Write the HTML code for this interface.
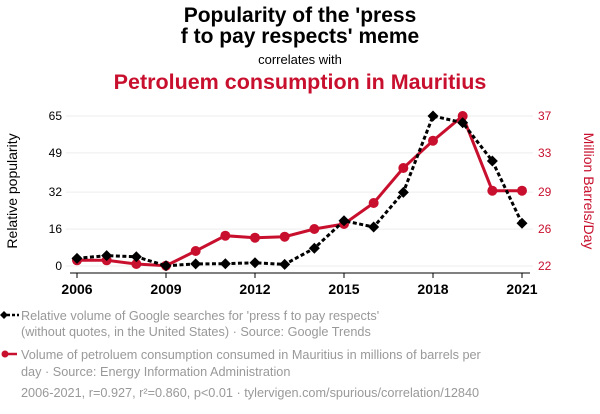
<!DOCTYPE html>
<html><head><meta charset="utf-8"><style>
body{margin:0;background:#fff;}
svg{display:block;font-family:"Liberation Sans",Arial,sans-serif;}
</style></head><body>
<svg id="chart" width="600" height="414" viewBox="0 0 600 414" xmlns="http://www.w3.org/2000/svg">
<text x="300" y="22" text-anchor="middle" font-size="21" font-weight="bold" fill="#000">Popularity of the 'press</text>
<text x="300" y="43" text-anchor="middle" font-size="21" font-weight="bold" fill="#000">f to pay respects' meme</text>
<text x="300" y="64" text-anchor="middle" font-size="13" fill="#000">correlates with</text>
<text x="300" y="89" text-anchor="middle" font-size="21.5" font-weight="bold" fill="#c8102e">Petroluem consumption in Mauritius</text>
<g id="grid"></g>
<g id="axes"></g>
<g id="series"></g>
<text transform="translate(17,191) rotate(-90)" text-anchor="middle" font-size="14" fill="#000">Relative popularity</text>
<text transform="translate(584,191) rotate(90)" text-anchor="middle" font-size="14" fill="#c8102e">Million Barrels/Day</text>
<g>
<line x1="2" y1="315" x2="19" y2="315" stroke="#000" stroke-width="2.5" stroke-dasharray="3,2"/>
<path d="M4,311 L8,315 L4,319 L0,315Z" fill="#000"/>
<text x="21" y="320" font-size="12.7" fill="#999">Relative volume of Google searches for 'press f to pay respects'</text>
<text x="21" y="336" font-size="12.7" fill="#999">(without quotes, in the United States) · Source: Google Trends</text>
</g>
<g>
<line x1="2" y1="354" x2="17" y2="354" stroke="#c8102e" stroke-width="2.5"/>
<circle cx="5" cy="354" r="3.5" fill="#c8102e"/>
<text x="21" y="359" font-size="12.7" fill="#999">Volume of petroluem consumption consumed in Mauritius in millions of barrels per</text>
<text x="21" y="376" font-size="12.7" fill="#999">day · Source: Energy Information Administration</text>
</g>
<text x="21" y="397" font-size="12.7" fill="#999">2006-2021, r=0.927, r²=0.860, p&lt;0.01 · tylervigen.com/spurious/correlation/12840</text>
</svg>
<script>
const years=[2006,2007,2008,2009,2010,2011,2012,2013,2014,2015,2016,2017,2018,2019,2020,2021];
const searches=[3.3,4.5,4.0,0.1,0.9,1.0,1.4,0.7,7.7,19.6,16.9,31.9,65,62.1,45.5,18.5];
const petroleum=[22.57,22.57,22.2,22.03,23.5,25.03,24.83,24.93,25.7,26.2,28.3,31.8,34.53,37,29.53,29.53];
const leftTicks=[0,16,32,49,65];
const rightTickLabels=["22","26","29","33","37"];
const xTicks=[2006,2009,2012,2015,2018,2021];
const NS="http://www.w3.org/2000/svg";
const x=y=>77+(y-2006)*(522-77)/15;
const yl=v=>266-v*150/65;
const yr=v=>266-(v-22)*150/15;
function el(t,a,p){const e=document.createElementNS(NS,t);for(const k in a)e.setAttribute(k,a[k]);p.appendChild(e);return e;}
const grid=document.getElementById('grid'),axes=document.getElementById('axes'),ser=document.getElementById('series');
leftTicks.forEach((v,i)=>{
 const g=el('line',{x1:66,x2:533,y1:yl(v),y2:yl(v),stroke:'#eee','stroke-width':1},grid);
 
 
 const t=el('text',{x:62,y:yl(v)+4,'text-anchor':'end','font-size':12,fill:'#000'},axes);t.textContent=v;
 
 
 const r=el('text',{x:538,y:yl(v)+4,'font-size':12,fill:'#c8102e'},axes);r.textContent=rightTickLabels[i];
 
 
});
const ax=el('line',{x1:70,x2:530,y1:273,y2:273,stroke:'#000','stroke-width':1},axes);


xTicks.forEach(yv=>{
 const tk=el('line',{x1:x(yv),x2:x(yv),y1:273,y2:278,stroke:'#000'},axes);
 
 
 const t=el('text',{x:x(yv),y:294,'text-anchor':'middle','font-size':14,'font-weight':'bold',fill:'#000'},axes);t.textContent=yv;
 
 
});
const rp=el('polyline',{points:years.map((y,i)=>x(y)+','+yr(petroleum[i])).join(' '),fill:'none',stroke:'#c8102e','stroke-width':3},ser);


years.forEach((y,i)=>{const c=el('circle',{cx:x(y),cy:yr(petroleum[i]),r:5,fill:'#c8102e'},ser);
 
 });
const bp=el('polyline',{points:years.map((y,i)=>x(y)+','+yl(searches[i])).join(' '),fill:'none',stroke:'#000','stroke-width':3,'stroke-dasharray':'4,2.5'},ser);


years.forEach((y,i)=>{const cx=x(y),cy=yl(searches[i]);
 const d=el('path',{d:`M${cx},${cy-5.5}L${cx+5.5},${cy}L${cx},${cy+5.5}L${cx-5.5},${cy}Z`,fill:'#000'},ser);
 
 });
</script>
</body></html>
